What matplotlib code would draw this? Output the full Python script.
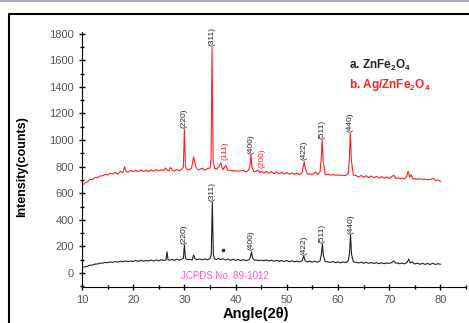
import numpy as np
import matplotlib.pyplot as plt
from matplotlib.lines import Line2D

plt.rcParams['font.family'] = ['Liberation Sans', 'DejaVu Sans']
plt.rcParams['mathtext.fontset'] = 'custom'
plt.rcParams['mathtext.rm'] = 'Liberation Sans'
plt.rcParams['mathtext.bf'] = 'Liberation Sans:bold'

# pattern a: ZnFe2O4 (2theta, counts)
a_x = [10, 10.5, 11, 11.5, 12, 12.5, 13, 13.5, 14, 14.5, 15, 15.5, 16, 16.5, 17, 17.5, 18, 18.5, 19, 19.5,
       20, 20.5, 21, 21.5, 22, 22.5, 23, 23.5, 24, 24.5, 25, 25.5, 26, 26.4, 26.6, 26.8, 27.2, 27.6, 28, 28.5,
       29, 29.5, 29.8, 30.0, 30.2, 30.6, 31, 31.5, 31.8, 32.1, 32.5, 33, 33.5, 34, 34.5, 35, 35.25, 35.45, 35.65, 35.9,
       36.3, 36.7, 37, 37.5, 38, 38.5, 39, 39.5, 40, 40.5, 41, 41.5, 42, 42.6, 42.9, 43.1, 43.3, 43.7, 44, 44.5,
       45, 45.5, 46, 46.5, 47, 47.5, 48, 48.5, 49, 49.5, 50, 50.5, 51, 51.5, 52, 52.5, 53, 53.3, 53.6, 54,
       54.5, 55, 55.5, 56, 56.5, 56.75, 56.95, 57.15, 57.5, 58, 58.5, 59, 59.5, 60, 60.5, 61, 61.5, 62, 62.25, 62.45,
       62.65, 63, 63.5, 64, 64.5, 65, 65.5, 66, 66.5, 67, 67.5, 68, 68.5, 69, 69.5, 70, 70.5, 70.9, 71.3, 71.7,
       72, 72.5, 73, 73.5, 73.8, 74.1, 74.5, 75, 75.5, 76, 76.5, 77, 77.5, 78, 78.5, 79, 79.5, 80]
a_y = [40, 47, 50, 58, 60, 67, 68, 74, 74, 80, 78, 84, 80, 86, 82, 88, 84, 92, 85, 90,
       88, 95, 87, 96, 89, 94, 91, 98, 90, 99, 92, 100, 95, 98, 160, 100, 96, 103, 95, 104,
       97, 105, 110, 211, 112, 100, 104, 98, 135, 106, 100, 106, 99, 106, 100, 108, 140, 535, 140, 106,
       102, 112, 100, 108, 98, 106, 96, 104, 95, 102, 94, 101, 93, 100, 120, 160, 115, 96, 98, 94,
       97, 92, 98, 91, 96, 89, 95, 88, 94, 87, 93, 86, 92, 85, 90, 84, 92, 128, 92, 84,
       90, 82, 89, 81, 92, 140, 218, 130, 86, 84, 80, 86, 78, 84, 77, 84, 78, 92, 150, 286,
       140, 84, 80, 76, 81, 74, 80, 73, 79, 72, 78, 71, 77, 70, 76, 72, 80, 92, 74, 76,
       70, 75, 69, 80, 105, 76, 84, 68, 74, 66, 73, 65, 72, 64, 74, 64, 70, 66]

# pattern b: Ag/ZnFe2O4
b_x = [10, 10.5, 11, 11.5, 12, 12.5, 13, 13.5, 14, 14.5, 15, 15.5, 16, 16.5, 17, 17.5, 18, 18.3, 18.6, 19,
       19.5, 20, 20.5, 21, 21.5, 22, 22.5, 23, 23.5, 24, 24.5, 25, 25.5, 26, 26.3, 26.6, 27, 27.3, 27.6, 28,
       28.5, 29, 29.5, 29.8, 30.0, 30.2, 30.6, 31, 31.4, 31.8, 32.2, 32.6, 33, 33.5, 34, 34.5, 35, 35.2, 35.4, 35.6,
       35.9, 36.3, 36.7, 37.1, 37.5, 38.1, 38.5, 39, 39.5, 40, 40.5, 41, 41.5, 42, 42.5, 42.8, 43.0, 43.2, 43.6, 44.0,
       44.35, 44.7, 45, 45.5, 46, 46.5, 47, 47.5, 48, 48.5, 49, 49.5, 50, 50.5, 51, 51.5, 52, 52.5, 53, 53.2,
       53.4, 53.6, 54, 54.5, 55, 55.6, 56, 56.5, 56.7, 56.9, 57.1, 57.5, 58, 58.5, 59, 59.5, 60, 60.5, 61, 61.5,
       62, 62.2, 62.4, 62.6, 63, 63.5, 64, 64.5, 65, 65.5, 66, 66.5, 67, 67.5, 68, 68.5, 69, 69.5, 70, 70.5,
       70.9, 71.3, 71.7, 72, 72.5, 73, 73.4, 73.7, 74.0, 74.3, 74.6, 75, 75.5, 76, 76.5, 77, 77.5, 78, 78.5, 79,
       79.5, 80]
b_y = [660, 675, 686, 702, 704, 716, 718, 730, 731, 742, 738, 750, 746, 756, 744, 764, 754, 800, 765, 758,
       772, 762, 774, 762, 776, 764, 774, 763, 776, 766, 779, 768, 776, 772, 790, 774, 768, 795, 775, 766,
       778, 770, 780, 800, 1080, 800, 774, 779, 790, 875, 800, 776, 780, 788, 774, 786, 790, 850, 1695, 850,
       786, 782, 800, 828, 778, 810, 772, 774, 768, 770, 766, 768, 772, 760, 774, 800, 888, 795, 762, 764,
       775, 754, 764, 752, 764, 750, 762, 748, 760, 746, 758, 744, 756, 742, 754, 741, 752, 740, 755, 800,
       836, 790, 744, 746, 742, 760, 740, 760, 850, 1000, 840, 741, 742, 738, 740, 736, 738, 734, 736, 732,
       750, 850, 1050, 850, 736, 734, 722, 734, 720, 732, 718, 730, 716, 728, 714, 726, 712, 724, 710, 726,
       735, 712, 716, 712, 714, 708, 725, 765, 720, 740, 708, 710, 706, 708, 704, 706, 702, 704, 712, 698,
       700, 690]

# hkl labels (position, peak top)
a_hkl = ['(220)', '(311)', '(400)', '(422)', '(511)', '(440)']
a_pos = [30.0, 35.45, 43.1, 53.3, 56.95, 62.45]
a_top = [211, 535, 160, 128, 218, 286]
b_hkl = ['(220)', '(311)', '(400)', '(422)', '(511)', '(440)']
b_pos = [30.0, 35.4, 43.0, 53.4, 56.9, 62.4]
b_top = [1080, 1695, 888, 836, 1000, 1050]
ag_hkl = ['(111)', '(200)']
ag_pos = [38.0, 45.1]
ag_top = [850, 790]

fig = plt.figure(figsize=(4.69, 3.23), dpi=100)
ax = fig.add_axes([82/469, 1-287/323, 384/469, (287-31.7)/323])

ax.plot(a_x, a_y, color='#222222', lw=0.8)
ax.plot(b_x, b_y, color='#ff2020', lw=0.8)
ax.plot([37.5], [173], marker='o', color='blue', ms=1.5, ls='none')

for t, x, y in zip(a_hkl, a_pos, a_top):
    ax.annotate(t, (x, y), xytext=(0, 1), textcoords='offset points', rotation=90,
                ha='center', va='bottom', fontsize=6, color='#222222')
for t, x, y in zip(b_hkl, b_pos, b_top):
    ax.annotate(t, (x, y), xytext=(0, 1), textcoords='offset points', rotation=90,
                ha='center', va='bottom', fontsize=6, color='#222222')
for t, x, y in zip(ag_hkl, ag_pos, ag_top):
    ax.annotate(t, (x, y), rotation=90, ha='center', va='bottom', fontsize=6, color='#ff2020')

ax.text(38.0, -23, 'JCPDS No. 89-1012', color='#ff55cc', fontsize=7, ha='center', va='center')

ax.text(62.2, 1535, r'a. ZnFe$_\mathbf{2}$O$_\mathbf{4}$', fontsize=8.5, fontweight='bold', color='#222222')
ax.text(62.2, 1395, r'b. Ag/ZnFe$_\mathbf{2}$O$_\mathbf{4}$', fontsize=8.5, fontweight='bold', color='#ff2020')

ax.set_xlim(10, 85)
ax.set_ylim(-105, 1815)
ax.set_xticks(np.arange(10, 81, 10))
ax.set_xticks(np.arange(15, 86, 10), minor=True)
ax.set_yticks(np.arange(0, 1801, 200))
ax.set_yticks(np.arange(-100, 1801, 200), minor=True)
ax.tick_params(direction='inout', length=5, width=1, labelsize=8, labelcolor='#555555')
ax.tick_params(which='minor', direction='inout', length=3, width=1)
ax.spines['top'].set_visible(False)
ax.spines['right'].set_visible(False)
ax.patch.set_alpha(0)

fig.text(256/469, 1-314/323, 'Angle(2\u03b8)', fontsize=10.5, fontweight='bold', ha='center', va='center')
fig.text(22/469, 1-167/323, 'Intensity(counts)', fontsize=9, fontweight='bold', rotation=90,
         ha='center', va='center')

# page frame
fig.add_artist(Line2D([0, 1], [1-1/323, 1-1/323], color='#a9a3cf', lw=1.5))
fig.add_artist(Line2D([9/469, 9/469, 1.0], [0, 1-14/323, 1-14/323], color='black', lw=1.5))

fig.savefig('out.png', dpi=100)
